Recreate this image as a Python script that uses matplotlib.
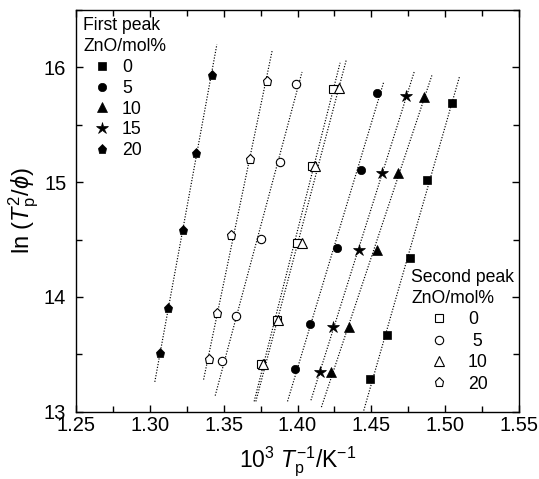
import numpy as np
import matplotlib
matplotlib.use("Agg")
import matplotlib.pyplot as plt

plt.rcParams['font.family'] = ['Liberation Sans', 'DejaVu Sans']
plt.rcParams['mathtext.fontset'] = 'custom'
plt.rcParams['mathtext.rm'] = 'Liberation Sans'
plt.rcParams['mathtext.it'] = 'Liberation Sans:italic'

# ---- data: first peak (filled markers) ----
zno_first = ["0", "5", "10", "15", "20"]
x_fp_0 = [1.5047, 1.4878, 1.4765, 1.4609, 1.4492]
y_fp_0 = [15.687, 15.015, 14.343, 13.670, 13.282]
x_fp_5 = [1.4535, 1.4429, 1.4266, 1.4085, 1.3984]
y_fp_5 = [15.777, 15.102, 14.430, 13.763, 13.371]
x_fp_10 = [1.4858, 1.4680, 1.4535, 1.4350, 1.4226]
y_fp_10 = [15.743, 15.076, 14.406, 13.737, 13.345]
x_fp_15 = [1.4736, 1.4575, 1.4419, 1.4239, 1.4153]
y_fp_15 = [15.748, 15.082, 14.406, 13.739, 13.345]
x_fp_20 = [1.3419, 1.3313, 1.3227, 1.3125, 1.3069]
y_fp_20 = [15.937, 15.258, 14.580, 13.904, 13.508]

# ---- data: second peak (open markers) ----
zno_second = ["0", " 5", "10", "20"]
x_sp_0 = [1.4243, 1.4097, 1.3999, 1.3860, 1.3751]
y_sp_0 = [15.812, 15.145, 14.470, 13.797, 13.412]
x_sp_5 = [1.3988, 1.3882, 1.3751, 1.3584, 1.3491]
y_sp_5 = [15.856, 15.174, 14.502, 13.835, 13.443]
x_sp_10 = [1.4282, 1.4119, 1.4029, 1.3871, 1.3769]
y_sp_10 = [15.817, 15.145, 14.470, 13.797, 13.412]
x_sp_20 = [1.3792, 1.3679, 1.3548, 1.3457, 1.3403]
y_sp_20 = [15.882, 15.203, 14.537, 13.856, 13.458]

# y-extent of each fitted dotted line
yr_fp_0 = (13.01, 15.92)
yr_fp_5 = (13.09, 15.87)
yr_fp_10 = (13.04, 15.93)
yr_fp_15 = (13.10, 15.97)
yr_fp_20 = (13.26, 16.20)
yr_sp_0 = (13.09, 16.04)
yr_sp_5 = (13.14, 15.96)
yr_sp_10 = (13.09, 16.06)
yr_sp_20 = (13.28, 16.15)

fig = plt.figure(figsize=(5.39, 4.79), dpi=100)
ax = fig.add_axes([76/539, 1-411.7/479, (519-76)/539, (411.7-10)/479])

def fitline(x, y, yr):
    a, b = np.polyfit(y, x, 1)
    yy = np.array(yr)
    ax.plot(a*yy + b, yy, color='black', lw=0.85, linestyle=(0, (1, 1.4)), zorder=1)

for x, y, yr in [(x_fp_0, y_fp_0, yr_fp_0), (x_fp_5, y_fp_5, yr_fp_5),
                 (x_fp_10, y_fp_10, yr_fp_10), (x_fp_15, y_fp_15, yr_fp_15),
                 (x_fp_20, y_fp_20, yr_fp_20), (x_sp_0, y_sp_0, yr_sp_0),
                 (x_sp_5, y_sp_5, yr_sp_5), (x_sp_10, y_sp_10, yr_sp_10),
                 (x_sp_20, y_sp_20, yr_sp_20)]:
    fitline(x, y, yr)

h_fp = []
for x, y, m, ms, lab in [(x_fp_0, y_fp_0, 's', 5.3, zno_first[0]),
                         (x_fp_5, y_fp_5, 'o', 6.0, zno_first[1]),
                         (x_fp_10, y_fp_10, '^', 7.0, zno_first[2]),
                         (x_fp_15, y_fp_15, '*', 9.0, zno_first[3]),
                         (x_fp_20, y_fp_20, 'p', 6.5, zno_first[4])]:
    h, = ax.plot(x, y, linestyle='none', marker=m, ms=ms, mfc='black',
                 mec='black', mew=0.5, label=lab, zorder=3)
    h_fp.append(h)

h_sp = []
for x, y, m, ms, lab in [(x_sp_0, y_sp_0, 's', 5.3, zno_second[0]),
                         (x_sp_5, y_sp_5, 'o', 6.0, zno_second[1]),
                         (x_sp_10, y_sp_10, '^', 7.0, zno_second[2]),
                         (x_sp_20, y_sp_20, 'p', 6.5, zno_second[3])]:
    h, = ax.plot(x, y, linestyle='none', marker=m, ms=ms, mfc='white',
                 mec='black', mew=0.8, label=lab, zorder=3)
    h_sp.append(h)

ax.set_xlim(1.25, 1.55)
ax.set_ylim(13, 16.49)
ax.set_xticks(np.arange(1.25, 1.5501, 0.05))
ax.set_xticklabels(["1.25", "1.30", "1.35", "1.40", "1.45", "1.50", "1.55"])
ax.set_xticks(np.arange(1.275, 1.55, 0.05), minor=True)
ax.set_yticks([13, 14, 15, 16])
ax.set_yticks([13.5, 14.5, 15.5, 16.5], minor=True)
ax.tick_params(which='both', direction='in', top=True, right=True, width=1.0)
ax.tick_params(which='major', length=5, labelsize=14.5)
ax.tick_params(which='minor', length=4)
ax.tick_params(axis='x', pad=3)
ax.tick_params(axis='y', pad=7)
for s in ax.spines.values():
    s.set_linewidth(1.0)

ax.set_xlabel(r'10$^3$ $T_\mathrm{p}^{-1}$/K$^{-1}$', fontsize=16.5, labelpad=7)
ax.set_ylabel(r'ln ($T_\mathrm{p}^{2}/\phi$)', fontsize=17, labelpad=2)

fs_leg = 12.7
leg1 = ax.legend(handles=h_fp, title="First peak\nZnO/mol%", loc='upper left',
                 bbox_to_anchor=(0.0, 1.0), frameon=False, fontsize=fs_leg,
                 title_fontsize=fs_leg, alignment='left', handlelength=2.16,
                 handletextpad=0.05, labelspacing=0.22, borderpad=0.2,
                 borderaxespad=0.2)
leg1.get_title().set_linespacing(1.3)
ax.add_artist(leg1)
leg2 = ax.legend(handles=h_sp, title="Second peak\nZnO/mol%", loc='upper left',
                 bbox_to_anchor=((411-76)/443, (411.7-269)/401.7), frameon=False,
                 fontsize=fs_leg, title_fontsize=fs_leg, alignment='left',
                 handlelength=3.18, handletextpad=0.05, labelspacing=0.25,
                 borderpad=0.0, borderaxespad=0.0)
leg2.get_title().set_linespacing(1.3)

fig.savefig("out.png", dpi=100)
